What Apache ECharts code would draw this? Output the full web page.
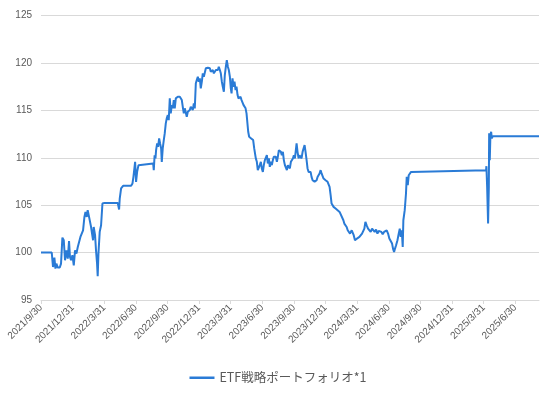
<!DOCTYPE html>
<html>
<head>
<meta charset="utf-8">
<script src="https://cdn.jsdelivr.net/npm/echarts@6/dist/echarts.min.js"></script>
<style>html,body{margin:0;padding:0;background:#fff}#c{width:556px;height:394px}</style>
</head>
<body>
<div id="c"></div>
<script>
// Tick labels (quarter ends), one every 3 months starting 2021/9/30
const tickLabels = ["2021/9/30","2021/12/31","2022/3/31","2022/6/30","2022/9/30","2022/12/31","2023/3/31","2023/6/30","2023/9/30","2023/12/31","2024/3/31","2024/6/30","2024/9/30","2024/12/31","2025/3/31","2025/6/30"];
const seriesName = "ETF戦略ポートフォリオ*1";
// x: months elapsed since 2021/9/30
const months = [
0,1.02,1.14,1.27,1.37,1.46,1.59,1.78,1.90,2.03,
2.16,2.28,2.41,2.54,2.66,2.75,2.85,2.98,3.11,3.23,
3.36,3.49,3.61,3.74,3.87,3.99,4.12,4.22,4.34,4.43,
4.56,4.69,4.75,4.84,4.94,5.00,5.13,5.22,5.32,5.38,
5.45,5.57,5.70,5.83,6.02,7.28,7.41,7.47,7.60,7.79,
8.55,8.68,8.77,8.93,9.02,9.12,9.25,9.37,10.64,10.70,
10.78,10.86,
10.92,11.02,11.11,11.21,11.30,11.40,11.46,11.55,11.65,11.74,
11.84,11.93,12.03,12.12,12.22,12.31,12.41,12.50,12.60,12.69,
12.79,12.88,12.98,13.07,13.17,13.26,13.36,13.45,13.55,13.64,
13.74,13.83,13.93,14.02,14.12,14.21,14.31,14.40,14.50,14.59,
14.69,14.78,14.88,14.97,15.07,15.16,15.26,15.35,15.45,15.54,
15.64,15.73,15.83,15.92,16.02,16.11,16.21,16.30,16.40,16.49,
16.59,16.68,16.78,16.87,16.97,17.06,17.16,17.25,17.35,17.44,
17.54,17.63,17.73,17.82,17.92,18.01,18.08,18.17,18.27,18.36,
18.46,18.55,18.65,18.74,18.84,18.93,19.03,19.12,19.22,19.31,
19.41,19.50,19.60,
19.66,19.75,19.85,19.94,20.04,20.13,20.23,20.29,20.38,20.48,
20.57,20.67,20.76,20.86,20.95,21.05,21.14,21.24,21.33,21.43,
21.52,21.62,21.71,21.81,21.90,22.00,22.09,22.19,22.28,22.38,
22.47,22.57,22.66,22.76,22.85,22.95,23.04,23.14,23.23,23.33,
23.42,23.52,23.61,23.71,23.80,23.90,23.99,24.09,24.18,24.25,
24.34,24.44,24.53,24.63,24.72,24.82,24.91,25.01,25.10,25.20,
25.29,25.39,25.48,25.58,25.67,25.77,25.86,25.96,26.05,26.15,
26.24,26.34,26.43,26.53,26.62,26.72,26.81,26.91,27.00,27.10,
27.19,27.29,27.38,27.48,27.57,27.67,27.76,27.86,27.95,28.05,
28.14,28.23,28.33,28.43,
28.69,28.78,28.88,29.00,29.10,29.19,29.32,29.48,29.57,29.67,
29.79,29.89,29.98,30.11,30.21,30.33,30.46,30.59,30.68,30.78,
30.90,31.03,31.16,31.28,31.41,31.54,31.66,31.79,31.92,32.04,
32.17,32.30,32.42,32.55,32.68,32.80,32.93,33.05,33.18,33.31,
33.40,33.50,33.59,33.69,33.82,33.94,34.04,34.13,34.23,34.32,
34.38,34.51,34.63,34.70,34.80,34.89,35.01,35.11,35.20,42.23,
42.26,42.33,42.42,42.49,42.52,42.58,42.64,42.71,42.77,42.87,
47.25
];
// y: index level
const values = [
100,100,98.48,99.47,98.31,98.84,98.42,98.42,98.84,101.58,
101.30,99.19,100.24,99.37,101.22,99.54,99.19,99.72,98.66,100.24,
99.89,100.59,100.42,101.65,101.48,102.35,103.76,104.29,103.76,104.47,
103.76,103.94,102.70,102.88,101.30,102.70,101.83,100.24,98.84,97.50,
99.89,102.18,102.88,105.17,105.24,105.24,104.54,105.70,106.76,107.04,
107.04,107.29,107.99,109.57,107.46,108.51,109.22,109.40,109.40,108.69,
110.27,109.93,
110.80,111.51,111.15,112.04,111.51,110.98,109.57,110.98,111.86,112.57,
113.62,114.15,114.50,113.97,116.26,114.68,115.55,115.21,116.08,115.21,
116.26,116.43,116.43,116.61,116.43,116.43,116.08,115.38,114.68,115.21,
115.03,114.32,114.85,114.68,115.03,115.38,115.55,115.03,115.73,115.21,
117.85,118.19,118.54,118.02,118.37,117.32,118.02,118.90,118.54,118.72,
119.43,119.60,119.49,119.60,119.43,119.07,118.90,119.25,118.90,119.07,
119.25,119.43,119.25,119.60,119.25,118.90,118.02,117.49,116.96,118.72,
119.60,120.30,119.60,119.25,118.54,117.32,116.79,118.37,117.49,118.02,
117.14,117.49,116.61,116.26,116.08,116.43,116.08,115.90,115.55,115.38,
115.21,114.68,114.50,
112.74,112.21,112.39,112.04,112.21,111.86,110.98,111.15,109.93,109.57,
108.69,108.51,109.22,109.57,108.87,108.51,109.22,109.75,109.57,110.27,
109.40,109.93,109.04,109.57,109.22,109.75,110.10,109.93,110.10,109.57,
110.10,110.80,110.98,110.62,110.27,110.62,109.75,109.22,109.40,108.69,
109.22,109.40,108.87,109.57,109.40,109.93,110.27,109.93,110.80,111.51,
110.62,109.93,110.27,110.45,109.93,110.62,110.98,111.33,110.62,109.75,
108.87,108.51,108.69,108.51,107.98,107.63,107.81,107.46,107.63,107.63,
107.98,108.16,108.34,108.69,108.34,108.16,107.81,107.98,107.63,107.46,
107.46,107.29,106.93,106.05,105.17,105.17,104.82,104.99,104.65,104.82,
104.47,104.47,104.29,104.12,
103.41,103.06,102.88,102.70,102.35,102.18,102.00,102.35,102.53,101.83,
101.30,101.12,101.48,101.30,101.65,101.48,102.00,101.83,102.53,103.23,
102.88,102.53,102.70,102.18,102.53,102.35,102.18,102.43,102.00,102.28,
102.07,102.18,101.93,102.18,102.00,102.35,102.00,101.48,101.30,100.95,
100.42,100.06,100.42,100.77,101.30,102.00,102.53,101.65,102.35,100.59,
103.41,104.47,106.23,107.98,107.11,108.16,107.98,108.51,108.69,108.69,
109.11,106.93,103.06,106.93,112.57,109.75,112.39,112.74,112.04,112.28,
112.28
];
const yTicks = {min: 95, max: 125, step: 5};
const xStep = 3, xMax = 47.25;

const n = Math.min(months.length, values.length);
const data = [];
for (let i = 0; i < n; i++) data.push([months[i], values[i]]);
const tickVals = tickLabels.map((_, i) => i * xStep);

const chart = echarts.init(document.getElementById('c'));
chart.setOption({
  animation: false,
  textStyle: {fontFamily: 'Liberation Sans, Arial, Noto Sans CJK JP'},
  grid: {left: 41, right: 17, top: 15.5, bottom: 94},
  xAxis: {
    type: 'value', min: 0, max: xMax, interval: xStep,
    axisLine: {show: true, lineStyle: {color: '#d9d9d9', width: 1}},
    axisTick: {show: true, length: 4, lineStyle: {color: '#d9d9d9'}, customValues: tickVals},
    splitLine: {show: false},
    axisLabel: {
      rotate: 45, fontSize: 10, color: '#595959', margin: 6,
      customValues: tickVals,
      formatter: v => { const i = Math.round(v / xStep); return (Math.abs(v - i * xStep) < 1e-6 && tickLabels[i]) ? tickLabels[i] : ''; }
    }
  },
  yAxis: {
    type: 'value', min: yTicks.min, max: yTicks.max, interval: yTicks.step,
    axisLine: {show: false}, axisTick: {show: false},
    splitLine: {lineStyle: {color: '#d9d9d9', width: 1}},
    axisLabel: {fontSize: 10, color: '#595959', margin: 9}
  },
  legend: {
    bottom: 5, left: 'center',
    icon: 'rect', itemWidth: 25, itemHeight: 2.5,
    textStyle: {fontSize: 12.5, color: '#595959', fontFamily: 'Noto Sans CJK JP, Liberation Sans'},
    data: [seriesName]
  },
  series: [{
    name: seriesName, type: 'line', data: data,
    showSymbol: false, symbol: 'none',
    lineStyle: {color: '#2a7bd6', width: 2},
    itemStyle: {color: '#2a7bd6'}
  }]
});
</script>
</body>
</html>
